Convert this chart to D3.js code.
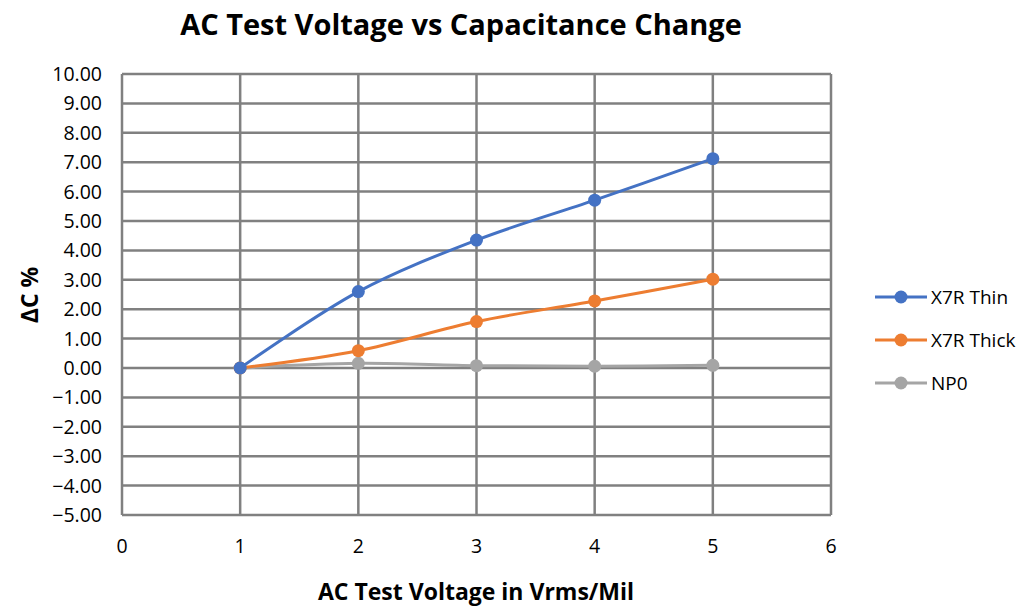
<!DOCTYPE html>
<html>
<head>
<meta charset="utf-8">
<script src="https://cdn.jsdelivr.net/npm/d3@7"></script>
<style>
  body { margin: 0; background: #fff; }
  text { font-family: "Open Sans", "Noto Sans", sans-serif; }
</style>
</head>
<body>
<div id="chart"></div>
<script>
var xValues = [1, 2, 3, 4, 5];
var x7rThin = [0, 2.60, 4.35, 5.71, 7.12];
var x7rThick = [0, 0.59, 1.58, 2.28, 3.02];
var np0 = [0, 0.16, 0.08, 0.06, 0.09];
var seriesNames = ["X7R Thin", "X7R Thick", "NP0"];
var seriesColors = ["#4472c4", "#ed7d31", "#a5a5a5"];
var xTicks = [0, 1, 2, 3, 4, 5, 6];
var yTicks = d3.range(-5, 10.5, 1);

var margin = {top: 74, right: 193, bottom: 92, left: 122};
var width = 1024 - margin.left - margin.right;
var height = 607 - margin.top - margin.bottom;

var svg = d3.select("#chart")
  .append("svg")
  .attr("width", 1024)
  .attr("height", 607);

var g = svg.append("g")
  .attr("transform", "translate(" + margin.left + "," + margin.top + ")");

var x = d3.scaleLinear().domain([0, 6]).range([0, width]);
var y = d3.scaleLinear().domain([-5, 10]).range([height, 0]);

// grid
g.selectAll(".hgrid")
  .data(yTicks)
  .enter().append("line")
  .attr("x1", 0).attr("x2", width)
  .attr("y1", function(d) { return y(d); })
  .attr("y2", function(d) { return y(d); })
  .attr("stroke", "#808080")
  .attr("stroke-width", 2.5);

g.selectAll(".vgrid")
  .data(xTicks)
  .enter().append("line")
  .attr("y1", 0).attr("y2", height)
  .attr("x1", function(d) { return x(d); })
  .attr("x2", function(d) { return x(d); })
  .attr("stroke", "#808080")
  .attr("stroke-width", 2.5);

// tick labels
g.selectAll(".ylab")
  .data(yTicks)
  .enter().append("text")
  .attr("x", -20)
  .attr("y", function(d) { return y(d); })
  .attr("dy", "0.36em")
  .attr("text-anchor", "end")
  .style("font-size", "19.5px")
  .attr("fill", "#000")
  .text(function(d) { return d3.format(".2f")(d); });

g.selectAll(".xlab")
  .data(xTicks)
  .enter().append("text")
  .attr("x", function(d) { return x(d); })
  .attr("y", height + 38)
  .attr("text-anchor", "middle")
  .style("font-size", "19.5px")
  .attr("fill", "#000")
  .text(function(d) { return d; });

// series
var allSeries = [x7rThin, x7rThick, np0];
var line = d3.line()
  .x(function(d, i) { return x(xValues[i]); })
  .y(function(d) { return y(d); })
  .curve(d3.curveCatmullRom.alpha(0.5));

allSeries.slice().reverse().forEach(function(s, j) {
  var k = allSeries.length - 1 - j;
  g.append("path")
    .datum(s)
    .attr("fill", "none")
    .attr("stroke", seriesColors[k])
    .attr("stroke-width", 3)
    .attr("d", line);
  g.selectAll(".pt" + k)
    .data(s)
    .enter().append("circle")
    .attr("cx", function(d, i) { return x(xValues[i]); })
    .attr("cy", function(d) { return y(d); })
    .attr("r", 6.5)
    .attr("fill", seriesColors[k]);
});

// titles
svg.append("text")
  .attr("x", 461)
  .attr("y", 35)
  .attr("text-anchor", "middle")
  .style("font-size", "29px")
  .style("font-weight", "bold")
  .text("AC Test Voltage vs Capacitance Change");

svg.append("text")
  .attr("x", 476)
  .attr("y", 600)
  .attr("text-anchor", "middle")
  .style("font-size", "23px")
  .style("font-weight", "bold")
  .text("AC Test Voltage in Vrms/Mil");

svg.append("text")
  .attr("transform", "translate(38,295) rotate(-90)")
  .attr("text-anchor", "middle")
  .style("font-size", "23px")
  .style("font-weight", "bold")
  .text("ΔC %");

// legend
var legend = svg.append("g");
seriesNames.forEach(function(name, i) {
  var ly = 297 + i * 43;
  legend.append("line")
    .attr("x1", 875).attr("x2", 927)
    .attr("y1", ly).attr("y2", ly)
    .attr("stroke", seriesColors[i])
    .attr("stroke-width", 3);
  legend.append("circle")
    .attr("cx", 901).attr("cy", ly)
    .attr("r", 6.5)
    .attr("fill", seriesColors[i]);
  legend.append("text")
    .attr("x", 931).attr("y", ly)
    .attr("dy", "0.36em")
    .style("font-size", "19px")
    .attr("fill", "#000")
    .text(name);
});
</script>
</body>
</html>
